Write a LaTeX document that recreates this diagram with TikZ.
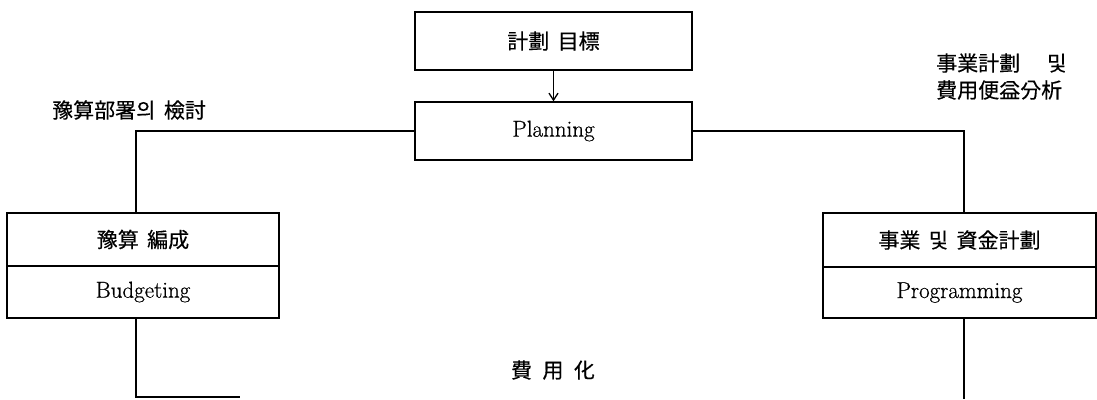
\documentclass[tikz,border=0pt]{standalone}
\usepackage{fontspec}
\setmainfont{Latin Modern Roman}[FakeBold=0.6]
\newfontfamily\cjk{Noto Sans CJK KR}[FakeBold=0.4]
\usetikzlibrary{arrows.meta}
\begin{document}
\begin{tikzpicture}[x=1pt,y=-1pt,
  box/.style={draw,line width=1.3pt,inner sep=0pt,minimum width=#1},
  lbl/.style={inner sep=0pt,font=\cjk\fontsize{21}{27}\selectfont},
  en/.style={font=\fontsize{23}{26}\selectfont},
  ck/.style={font=\cjk\fontsize{21}{24}\selectfont},
  conn/.style={line width=1.3pt}]
\useasboundingbox (0,0) rectangle (1097,399);
% boxes
\node[box=277pt,minimum height=58pt,ck] (goal) at (553.5,41) {計劃\hspace{0.4em}目標};
\node[box=277pt,minimum height=58pt,en] (plan) at (553.5,131) {Planning};
\node[box=272pt,minimum height=53pt,ck] (bud1) at (143,239.5) {豫算\hspace{0.4em}編成};
\node[box=272pt,minimum height=52pt,en] (bud2) at (143,292) {Budgeting};
\node[box=273pt,minimum height=54pt,ck] (prog1) at (959.5,240) {事業\hspace{0.4em}및\hspace{0.4em}資金計劃};
\node[box=273pt,minimum height=51pt,en] (prog2) at (959.5,292.5) {Programming};
% labels
\node[lbl,anchor=west] (l1) at (52,110) {豫算部署의\hspace{0.4em}檢討};
\node[lbl,anchor=west] (l2) at (936,63) {事業計劃\hspace{27pt}및};
\node[lbl,anchor=west] (l3) at (936,90) {費用便益分析};
\node[lbl] (l4) at (553,370) {費\hspace{0.5em}用\hspace{0.5em}化};
% connectors
\draw[conn,-{Straight Barb[length=7pt,width=9pt]}] (goal.south) -- (plan.north);
\draw[conn] (plan.west) -| ([xshift=-7pt]bud1.north);
\draw[conn] (plan.east) -| ([xshift=4.5pt]prog1.north);
\coordinate (bl) at (136,397);
\coordinate (br) at (240,397);
\coordinate (rb) at (964,399);
\draw[conn] ([xshift=-7pt]bud2.south) -- (bl) -- (br);
\draw[conn] ([xshift=4.5pt]prog2.south) -- (rb);
\end{tikzpicture}
\end{document}
